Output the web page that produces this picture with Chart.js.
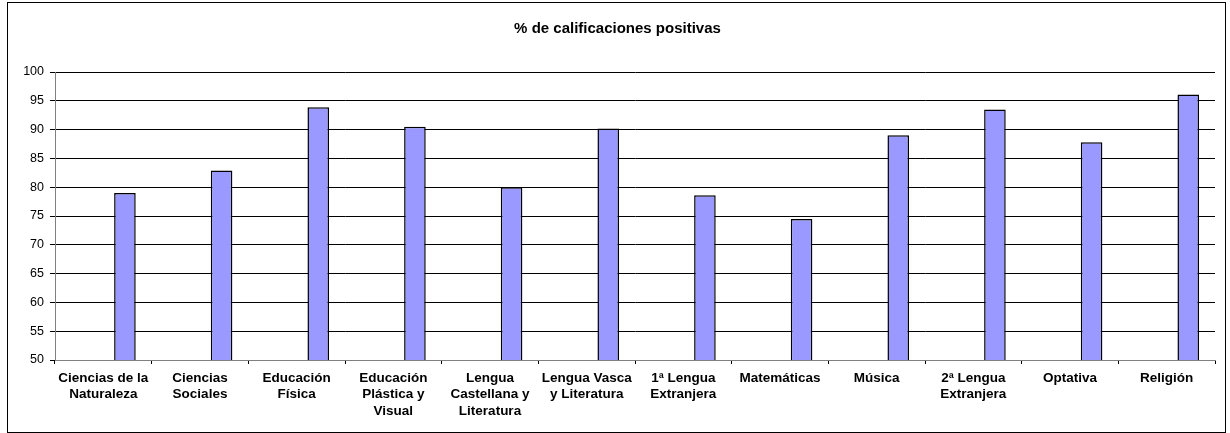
<!DOCTYPE html>
<html>
<head>
<meta charset="utf-8">
<script src="https://cdn.jsdelivr.net/npm/chart.js@4/dist/chart.umd.min.js"></script>
<style>
  html, body { margin: 0; padding: 0; background: #fff; }
  #wrap { position: relative; width: 1230px; height: 433px; }
</style>
</head>
<body>
<div id="wrap"><canvas id="c" width="1230" height="433"></canvas></div>
<script>
const chartTitle = "% de calificaciones positivas";
const categories = [
  ["Ciencias de la", "Naturaleza"],
  ["Ciencias", "Sociales"],
  ["Educación", "Física"],
  ["Educación", "Plástica y", "Visual"],
  ["Lengua", "Castellana y", "Literatura"],
  ["Lengua Vasca", "y Literatura"],
  ["1ª Lengua", "Extranjera"],
  ["Matemáticas"],
  ["Música"],
  ["2ª Lengua", "Extranjera"],
  ["Optativa"],
  ["Religión"]
];
const positivas = [79.0, 82.9, 93.9, 90.5, 80.0, 90.2, 78.6, 74.5, 89.0, 93.5, 87.8, 96.1];
// two empty series occupy the first two slots of each group, as in the original chart
const emptySeriesA = [null, null, null, null, null, null, null, null, null, null, null, null];
const emptySeriesB = [null, null, null, null, null, null, null, null, null, null, null, null];
const yMin = 50, yMax = 100, yStep = 5;

const FONT = "'Liberation Sans', Arial, sans-serif";

const borderPlugin = {
  id: 'outerBorder',
  beforeDraw(chart) {
    const ctx = chart.ctx;
    ctx.save();
    ctx.fillStyle = '#fff';
    ctx.fillRect(0, 0, chart.width, chart.height);
    ctx.strokeStyle = '#000';
    ctx.lineWidth = 1;
    ctx.strokeRect(7.5, 2.5, 1218, 430);
    ctx.restore();
  }
};

new Chart(document.getElementById('c'), {
  type: 'bar',
  data: {
    labels: categories,
    datasets: [
      { label: 'a', data: emptySeriesA, backgroundColor: '#9999FF' },
      { label: 'b', data: emptySeriesB, backgroundColor: '#9999FF' },
      {
        label: chartTitle,
        data: positivas,
        backgroundColor: '#9999FF',
        borderColor: '#000',
        borderWidth: 1.5
      }
    ]
  },
  options: {
    responsive: false,
    animation: false,
    devicePixelRatio: 1,
    categoryPercentage: 0.67,
    barPercentage: 1.0,
    layout: { padding: { left: 20, right: 15, top: 0, bottom: 0 } },
    plugins: {
      legend: { display: false },
      tooltip: { enabled: false },
      title: {
        display: true,
        text: chartTitle,
        color: '#000',
        font: { family: FONT, size: 15, weight: 'bold', lineHeight: 1.2 },
        padding: { top: 20, bottom: 34 }
      }
    },
    scales: {
      x: {
        grid: {
          display: true,
          drawOnChartArea: false,
          drawTicks: true,
          tickLength: 4,
          color: '#000',
          tickColor: '#000',
          offset: true
        },
        border: { display: true, color: '#808080', width: 1 },
        ticks: {
          autoSkip: false,
          maxRotation: 0,
          minRotation: 0,
          padding: 6,
          color: '#000',
          font: { family: FONT, size: 13.5, weight: 'bold', lineHeight: 1.22 }
        },
        afterFit(scale) { scale.height = 73; }
      },
      y: {
        min: yMin,
        max: yMax,
        grid: {
          color: '#000',
          tickColor: '#000',
          tickLength: 5,
          drawTicks: true
        },
        border: { display: true, color: '#808080', width: 1 },
        ticks: {
          stepSize: yStep,
          padding: 6,
          color: '#000',
          font: { family: FONT, size: 12.5 }
        },
        afterFit(scale) { scale.width = 35; }
      }
    }
  },
  plugins: [borderPlugin]
});
</script>
</body>
</html>
